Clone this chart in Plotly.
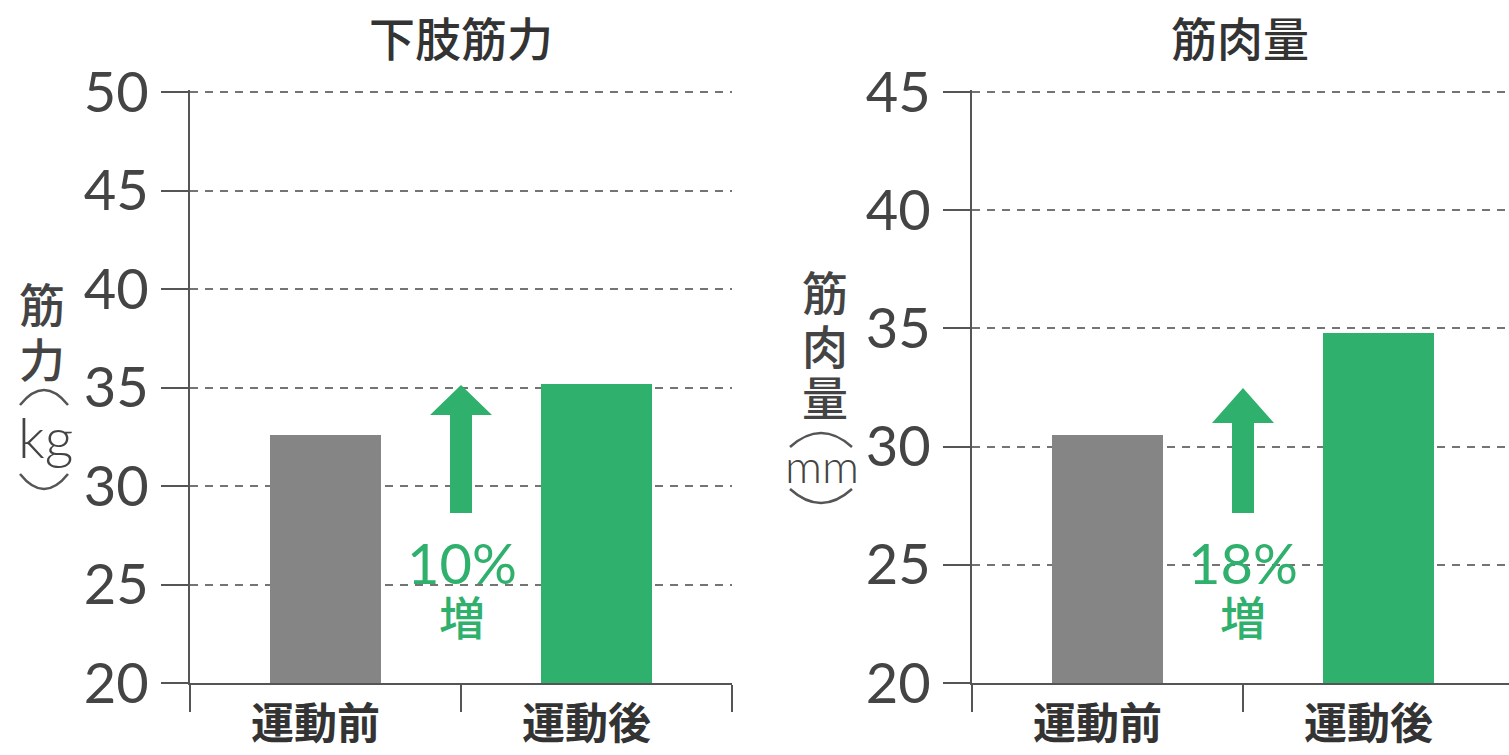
import plotly.graph_objects as go

# Data
categories = ["運動前", "運動後"]
strength_kg = [32.6, 35.2]        # 下肢筋力
muscle_mm = [30.5, 34.8]          # 筋肉量
increase_labels = ["10%", "18%"]

W, H = 1509, 755
GREEN = "#2fb06c"
GRAY_BAR = "#858585"
AXIS = "#555555"
TEXT = "#333333"
DIGIT_FONT = "Lato"
CJK_FONT = "Noto Sans CJK JP"


def px(x):
    return x / W


def py(y):
    return 1 - y / H


fig = go.Figure()

panels = [
    dict(x="x", y="y", vals=strength_kg, lo=20, hi=50),
    dict(x="x2", y="y2", vals=muscle_mm, lo=20, hi=45),
]

for p in panels:
    fig.add_trace(go.Bar(
        x=categories, y=[v - p["lo"] for v in p["vals"]], base=p["lo"],
        xaxis=p["x"], yaxis=p["y"], width=0.41,
        marker=dict(color=[GRAY_BAR, GREEN], line=dict(width=0)),
        hoverinfo="skip", showlegend=False,
    ))

common_y = dict(
    dtick=5, showgrid=True, gridcolor="#747474", gridwidth=2, griddash="8px,7px",
    showline=True, linecolor=AXIS, linewidth=2, ticks="outside", ticklen=27,
    tickwidth=2, tickcolor=AXIS, zeroline=False, automargin=False,
    tickfont=dict(family=DIGIT_FONT, size=56, color="#444444", weight=400),
    ticklabelstandoff=1, fixedrange=True,
)
common_x = dict(
    type="category", showline=True, linecolor=AXIS, linewidth=2, ticks="outside",
    tickson="boundaries", ticklen=27, tickwidth=2, tickcolor=AXIS, showgrid=False,
    tickfont=dict(family=CJK_FONT, size=43, color=TEXT, weight="bold"),
    ticklabelshift=-10, ticklabelstandoff=2, automargin=False, fixedrange=True,
)

# Plot area: bottom at 683 px, top tick at 92 px (range padded by ~2 px so the
# top dashed grid line is kept)
PAD_PX = 2
bottom_px, top_tick_px = 683, 92
y0 = py(bottom_px)
y1 = py(top_tick_px - PAD_PX)


def padded(lo, hi):
    per_px = (hi - lo) / (bottom_px - top_tick_px)
    return [lo, hi + PAD_PX * per_px]


fig.update_layout(
    width=W, height=H, margin=dict(l=0, r=0, t=0, b=0, autoexpand=False),
    paper_bgcolor="white", plot_bgcolor="white", bargap=0,
    xaxis=dict(domain=[px(190), px(732)], range=[-0.5, 1.5], anchor="y", **common_x),
    yaxis=dict(domain=[y0, y1], range=padded(20, 50), anchor="x", **common_y),
    xaxis2=dict(domain=[px(972), 1.0], range=[-0.5, 1.4815], anchor="y2", **common_x),
    yaxis2=dict(domain=[y0, y1], range=padded(20, 45), anchor="x2", **common_y),
)

# Panel titles
for text, cx in [("下肢筋力", 461), ("筋肉量", 1240)]:
    fig.add_annotation(text=text, x=px(cx), y=py(36), xref="paper", yref="paper",
                       showarrow=False, xanchor="center", yanchor="middle",
                       font=dict(family=CJK_FONT, size=46, color=TEXT, weight=500))

# Vertical axis titles, one glyph per line
y_titles = [
    [("筋", 42, 302, 46), ("力", 42, 357, 46), ("kg", 45, 436, 56)],
    [("筋", 825, 290, 46), ("肉", 825, 344, 46), ("量", 825, 395, 46),
     ("mm", 822, 465, 46)],
]
for group in y_titles:
    for text, cx, cy, size in group:
        ascii_text = text.isascii()
        fig.add_annotation(text=text, x=px(cx), y=py(cy), xref="paper", yref="paper",
                           showarrow=False, xanchor="center", yanchor="middle",
                           font=dict(family=DIGIT_FONT if ascii_text else CJK_FONT,
                                     size=size, color="#444444",
                                     weight=300 if ascii_text else 500))

# Vertical-writing brackets around the units, drawn as arcs
# (x_left, x_right, end_y, apex_y)
brackets = [
    (20, 68, 405, 390), (20, 68, 474, 489),
    (790, 852, 447, 433), (790, 852, 489, 503),
]
for xl, xr, ye, ya in brackets:
    ctrl = 2 * ya - ye
    xm = (xl + xr) / 2
    path = (f"M {px(xl)},{py(ye)} Q {px(xm)},{py(ctrl)} {px(xr)},{py(ye)}")
    fig.add_shape(type="path", path=path, xref="paper", yref="paper",
                  line=dict(color="#555555", width=2.5), fillcolor="rgba(0,0,0,0)")

# Increase arrows between the two bars
arrows = [
    dict(xref="x", yref="y", tip=35.13, head=30, shaft=128),
    dict(xref="x2", yref="y2", tip=32.48, head=35, shaft=125),
]
for a in arrows:
    h, s = a["head"], a["shaft"]
    path = f"M 0,0 L 31,{-h} L 11,{-h} L 11,{-s} L -11,{-s} L -11,{-h} L -31,{-h} Z"
    fig.add_shape(type="path", path=path, xref=a["xref"], yref=a["yref"],
                  xsizemode="pixel", ysizemode="pixel", xanchor=0.5, yanchor=a["tip"],
                  fillcolor=GREEN, line=dict(width=0), layer="above")

for label, cx in zip(increase_labels, [462, 1243]):
    fig.add_annotation(text=label, x=px(cx), y=py(562), xref="paper", yref="paper",
                       showarrow=False, xanchor="center", yanchor="middle",
                       font=dict(family=DIGIT_FONT, size=56, color=GREEN, weight=400))
    fig.add_annotation(text="増", x=px(cx), y=py(615), xref="paper", yref="paper",
                       showarrow=False, xanchor="center", yanchor="middle",
                       font=dict(family=CJK_FONT, size=46, color=GREEN, weight=500))

fig.write_html("out.html")
